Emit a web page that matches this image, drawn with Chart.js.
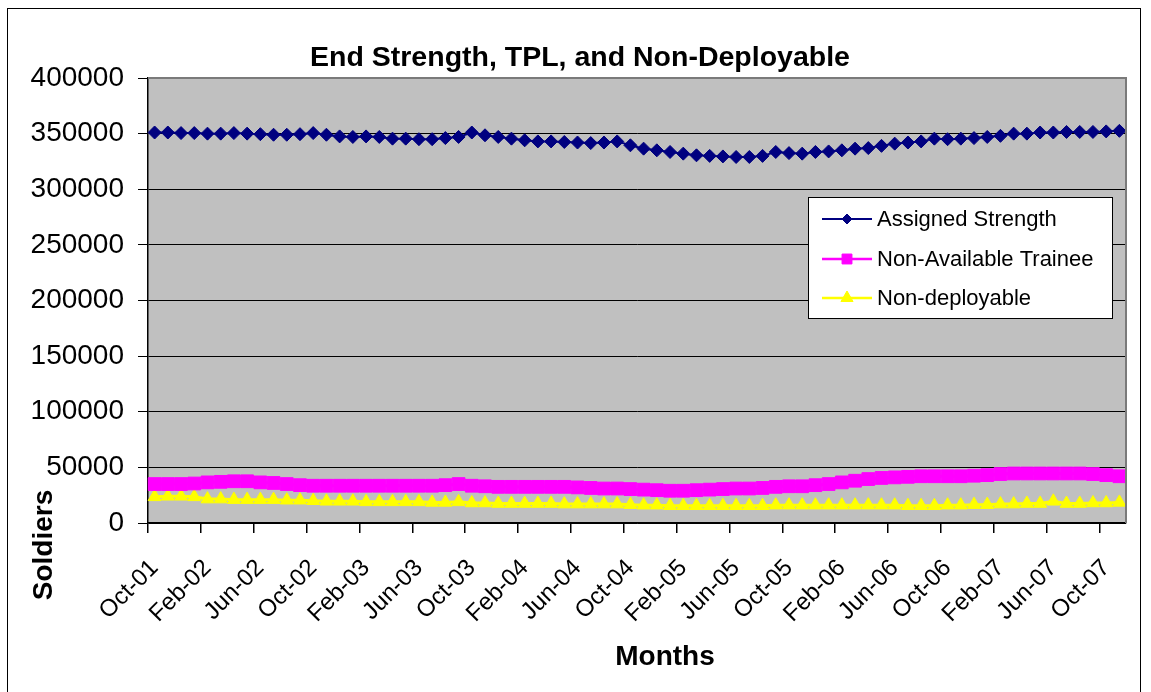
<!DOCTYPE html>
<html>
<head>
<meta charset="utf-8">
<title>End Strength, TPL, and Non-Deployable</title>
<script src="https://cdn.jsdelivr.net/npm/chart.js@4/dist/chart.umd.min.js"></script>
<style>
  html, body { margin: 0; padding: 0; background: #ffffff; }
  canvas { display: block; }
</style>
</head>
<body>
<canvas id="chart" width="1151" height="692"></canvas>
<script>
// Monthly categories, Oct-01 through Nov-07
const months = [
  'Oct-01','Nov-01','Dec-01',
  'Jan-02','Feb-02','Mar-02','Apr-02','May-02','Jun-02','Jul-02','Aug-02','Sep-02','Oct-02','Nov-02','Dec-02',
  'Jan-03','Feb-03','Mar-03','Apr-03','May-03','Jun-03','Jul-03','Aug-03','Sep-03','Oct-03','Nov-03','Dec-03',
  'Jan-04','Feb-04','Mar-04','Apr-04','May-04','Jun-04','Jul-04','Aug-04','Sep-04','Oct-04','Nov-04','Dec-04',
  'Jan-05','Feb-05','Mar-05','Apr-05','May-05','Jun-05','Jul-05','Aug-05','Sep-05','Oct-05','Nov-05','Dec-05',
  'Jan-06','Feb-06','Mar-06','Apr-06','May-06','Jun-06','Jul-06','Aug-06','Sep-06','Oct-06','Nov-06','Dec-06',
  'Jan-07','Feb-07','Mar-07','Apr-07','May-07','Jun-07','Jul-07','Aug-07','Sep-07','Oct-07','Nov-07'
];

const assignedStrength = [
  351000, 351000, 350500, 350500, 350000, 350000, 350500, 350000, 349500, 349000,
  349000, 349500, 350500, 349000, 347500, 347000, 347500, 347000, 345500, 345500,
  345000, 345000, 346000, 347000, 351000, 348500, 347000, 345500, 344000, 343000,
  343000, 342500, 342000, 341500, 342000, 343000, 339500, 336500, 335000, 333500,
  332000, 330500, 330000, 329500, 329000, 329000, 330000, 333500, 332500, 332000,
  333500, 334000, 335000, 336500, 337000, 339000, 341000, 342000, 343000, 345500,
  345000, 345500, 346000, 347000, 348000, 350000, 350000, 351000, 351000, 351500,
  351500, 351500, 352000, 352500
];

const nonAvailableTrainee = [
  35000, 35000, 35000, 35500, 36500, 37000, 37500, 37500, 36500, 36000,
  35000, 34000, 33500, 33500, 33500, 33500, 33500, 33500, 33500, 33500,
  33500, 33500, 34000, 35000, 33500, 33000, 32500, 32500, 32500, 32500,
  32500, 32500, 32000, 31500, 31000, 31000, 30500, 30000, 29500, 29000,
  29000, 29500, 30000, 30500, 31000, 31000, 31500, 32500, 33000, 33000,
  34000, 35000, 36500, 38000, 39500, 40500, 41000, 41500, 42000, 42000,
  42000, 42000, 42500, 43000, 44000, 44500, 44500, 44500, 44500, 44500,
  44500, 44000, 43000, 42000
];

const nonDeployable = [
  23500, 24000, 24000, 23500, 21500, 21500, 21000, 21000, 21000, 21000,
  20500, 20500, 20000, 19500, 19500, 19500, 19000, 19000, 19000, 19000,
  19000, 18500, 18500, 19000, 18000, 18000, 17500, 17500, 17500, 17500,
  17500, 17000, 17000, 17000, 17000, 17000, 16500, 16000, 16000, 15500,
  15500, 15500, 15500, 15500, 15500, 15500, 15500, 16000, 16000, 16000,
  16000, 16000, 16000, 16000, 16000, 16000, 16000, 15500, 15500, 15500,
  16000, 16000, 16500, 16500, 17000, 17000, 17500, 17500, 19500, 17500,
  17500, 18000, 18000, 18500
];

const yTicks = [0, 50000, 100000, 150000, 200000, 250000, 300000, 350000, 400000];
const seriesNames = ['Assigned Strength', 'Non-Available Trainee', 'Non-deployable'];
const chartTitle = 'End Strength, TPL, and Non-Deployable';
const xTitle = 'Months';
const yTitle = 'Soldiers';

const FONT = '"Liberation Sans", Arial, sans-serif';

// Plot background, outer frame and plot-area edges
const framePlugin = {
  id: 'frame',
  beforeDraw(chart) {
    const { ctx, chartArea: a } = chart;
    ctx.save();
    ctx.fillStyle = '#ffffff';
    ctx.fillRect(0, 0, chart.width, chart.height);
    ctx.fillStyle = '#c0c0c0';
    ctx.fillRect(a.left, a.top, a.right - a.left, a.bottom - a.top);
    ctx.strokeStyle = '#000000';
    ctx.lineWidth = 1;
    ctx.strokeRect(7.5, 8.5, 1133, 720);
    ctx.restore();
  },
  afterDraw(chart) {
    const { ctx, chartArea: a } = chart;
    ctx.save();
    ctx.strokeStyle = '#7a7a7a';
    ctx.lineWidth = 2;
    ctx.beginPath();
    ctx.moveTo(a.left, a.top);
    ctx.lineTo(a.right, a.top);
    ctx.lineTo(a.right, a.bottom);
    ctx.stroke();
    ctx.restore();
  }
};

// Chart title and axis titles
const titlesPlugin = {
  id: 'titles',
  afterDraw(chart) {
    const { ctx } = chart;
    ctx.save();
    ctx.fillStyle = '#000000';
    ctx.textAlign = 'center';
    ctx.textBaseline = 'alphabetic';
    ctx.font = 'bold 28.5px ' + FONT;
    ctx.fillText(chartTitle, 580, 66);
    ctx.font = 'bold 28px ' + FONT;
    ctx.textBaseline = 'middle';
    ctx.fillText(xTitle, 665, 657);
    ctx.translate(44, 545);
    ctx.rotate(-Math.PI / 2);
    ctx.fillText(yTitle, 0, 0);
    ctx.restore();
  }
};

// Boxed legend inside the plot area
const boxLegendPlugin = {
  id: 'boxLegend',
  afterDraw(chart) {
    const { ctx } = chart;
    const box = { x: 808.5, y: 197.5, w: 304, h: 121 };
    const rows = [219, 259, 298];
    const markerRadius = [5, 7, 7];
    ctx.save();
    ctx.fillStyle = '#ffffff';
    ctx.fillRect(box.x, box.y, box.w, box.h);
    ctx.strokeStyle = '#000000';
    ctx.lineWidth = 1;
    ctx.strokeRect(box.x, box.y, box.w, box.h);
    chart.data.datasets.forEach((ds, i) => {
      const y = rows[i];
      ctx.strokeStyle = ds.borderColor;
      ctx.lineWidth = Math.min(ds.borderWidth, 2.5);
      ctx.beginPath();
      ctx.moveTo(822, y);
      ctx.lineTo(872, y);
      ctx.stroke();
      ctx.fillStyle = ds.pointBackgroundColor;
      ctx.strokeStyle = ds.pointBorderColor;
      ctx.lineWidth = 1;
      Chart.helpers.drawPoint(ctx, {
        pointStyle: ds.pointStyle, rotation: 0, radius: markerRadius[i], borderWidth: 1
      }, 847, y);
      ctx.fillStyle = '#000000';
      ctx.font = '22px ' + FONT;
      ctx.textAlign = 'left';
      ctx.textBaseline = 'middle';
      ctx.fillText(ds.label, 877, y + 1);
    });
    ctx.restore();
  }
};

new Chart(document.getElementById('chart'), {
  type: 'line',
  data: {
    labels: months,
    datasets: [
      {
        label: seriesNames[0],
        data: assignedStrength,
        borderColor: '#000080',
        borderWidth: 2,
        pointStyle: 'rectRot',
        pointRadius: 6.5,
        pointBackgroundColor: '#000080',
        pointBorderColor: '#000080',
        pointBorderWidth: 1,
        tension: 0
      },
      {
        label: seriesNames[1],
        data: nonAvailableTrainee,
        borderColor: '#ff00ff',
        borderWidth: 3,
        pointStyle: 'rect',
        pointRadius: 9,
        pointBackgroundColor: '#ff00ff',
        pointBorderColor: '#ff00ff',
        pointBorderWidth: 1,
        tension: 0
      },
      {
        label: seriesNames[2],
        data: nonDeployable,
        borderColor: '#ffff00',
        borderWidth: 3,
        pointStyle: 'triangle',
        pointRadius: 7.5,
        pointBackgroundColor: '#ffff00',
        pointBorderColor: '#ffff00',
        pointBorderWidth: 1,
        tension: 0
      }
    ]
  },
  options: {
    responsive: false,
    animation: false,
    events: [],
    layout: { padding: { left: 0, right: 25, top: 78, bottom: 0 } },
    plugins: {
      legend: { display: false },
      tooltip: { enabled: false },
      title: { display: false }
    },
    scales: {
      x: {
        type: 'category',
        offset: true,
        grid: {
          offset: true,
          drawOnChartArea: false,
          tickLength: 10,
          lineWidth: 1.5,
          color: (c) => (c.index !== undefined && c.index % 4 === 0) ? '#000000' : 'rgba(0,0,0,0)'
        },
        border: { color: '#000000', width: 1.5 },
        ticks: {
          autoSkip: false,
          minRotation: 45,
          maxRotation: 45,
          padding: 21,
          color: '#000000',
          font: { family: FONT, size: 24 },
          callback: function (value, index) {
            return index % 4 === 0 ? months[index] : '';
          }
        },
        afterFit: (scale) => {
          scale.height = 169;
          scale.paddingLeft = 0;
          scale.paddingRight = 0;
        }
      },
      y: {
        min: yTicks[0],
        max: yTicks[yTicks.length - 1],
        grid: {
          color: '#000000',
          lineWidth: 1,
          tickLength: 10
        },
        border: { color: '#000000', width: 1.5 },
        ticks: {
          stepSize: yTicks[1] - yTicks[0],
          padding: 14,
          color: '#000000',
          font: { family: FONT, size: 28 },
          callback: (v) => String(v)
        },
        afterFit: (scale) => {
          scale.width = 148;
          scale.paddingTop = 0;
          scale.paddingBottom = 0;
        }
      }
    }
  },
  plugins: [framePlugin, titlesPlugin, boxLegendPlugin]
});
</script>
</body>
</html>
